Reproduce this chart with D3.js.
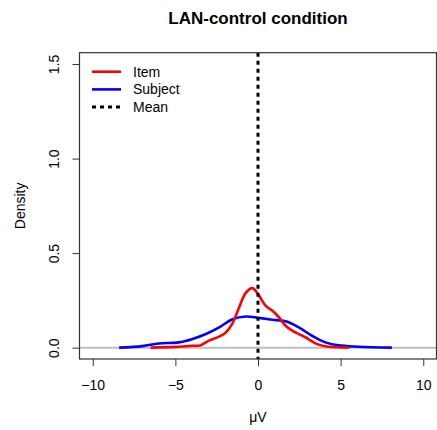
<!DOCTYPE html>
<html>
<head>
<meta charset="utf-8">
<script src="https://cdn.jsdelivr.net/npm/d3@7"></script>
<style>
  body { margin: 0; background: #fff; }
  svg { display: block; font-family: "Liberation Sans", Arial, sans-serif; }
</style>
</head>
<body>
<div id="chart"></div>
<script>
// values (µV, density)
var itemUv = [-6.5, -5.0, -4.0, -3.5, -2.9, -2.35, -1.95, -1.55, -1.14, -0.74, -0.34, 0.06, 0.46, 0.86, 1.27, 1.67, 2.07, 2.47, 2.87, 3.27, 3.67, 4.28, 5.5];
var itemDens = [0.0, 0.004, 0.01, 0.012, 0.04, 0.058, 0.08, 0.127, 0.213, 0.29, 0.315, 0.275, 0.222, 0.196, 0.16, 0.116, 0.09, 0.072, 0.055, 0.033, 0.016, 0.005, 0.0];

var subjUv = [-8.4, -7.0, -6.0, -4.8, -4.0, -3.15, -2.35, -1.55, -0.74, 0.06, 0.86, 1.67, 2.47, 3.27, 4.08, 4.88, 6.08, 8.1];
var subjDens = [0.0, 0.008, 0.022, 0.028, 0.045, 0.072, 0.107, 0.15, 0.165, 0.157, 0.148, 0.139, 0.107, 0.063, 0.028, 0.012, 0.005, 0.0];

var meanUv = 0;
var xTicks = [-10, -5, 0, 5, 10];
var yTicks = [0, 0.5, 1, 1.5];
var yTickLabels = ["0.0", "0.5", "1.0", "1.5"];
var legendNames = ["Item", "Subject", "Mean"];

var W = 437, H = 430;
var svg = d3.select("#chart").append("svg").attr("width", W).attr("height", H);
svg.append("rect").attr("width", W).attr("height", H).attr("fill", "#fff");

// R style: limits padded by 4%
var x = d3.scaleLinear().domain([-10.8, 10.8]).range([79.5, 436.5]);
var y = d3.scaleLinear().domain([-0.06, 1.56]).range([359, 52.7]);

function toPoints(xs, ys) {
    var pts = [];
    for (var i = 0; i < xs.length; i++) pts.push({x: xs[i], y: ys[i]});
    return pts;
}

var line = d3.line()
    .x(function (d) { return x(d.x); })
    .y(function (d) { return y(d.y); })
    .curve(d3.curveCatmullRom.alpha(0.5));

// zero line
svg.append("line")
    .attr("x1", x.range()[0]).attr("x2", x.range()[1])
    .attr("y1", y(0)).attr("y2", y(0))
    .attr("stroke", "#bebebe").attr("stroke-width", 2);

svg.append("path").datum(toPoints(subjUv, subjDens))
    .attr("fill", "none").attr("stroke", "#0000ff").attr("stroke-width", 2.6)
    .attr("d", line);
svg.append("path").datum(toPoints(itemUv, itemDens))
    .attr("fill", "none").attr("stroke", "#ff0000").attr("stroke-width", 2.6)
    .attr("d", line);

// mean line
svg.append("line")
    .attr("x1", x(meanUv)).attr("x2", x(meanUv))
    .attr("y1", y.range()[1]).attr("y2", y.range()[0])
    .attr("stroke", "#000").attr("stroke-width", 3)
    .attr("stroke-dasharray", "4,4");

// box
svg.append("rect")
    .attr("x", x.range()[0]).attr("y", y.range()[1])
    .attr("width", x.range()[1] - x.range()[0])
    .attr("height", y.range()[0] - y.range()[1])
    .attr("fill", "none").attr("stroke", "#333").attr("stroke-width", 1.2);

// axes
var xAxis = svg.append("g")
    .attr("transform", "translate(0," + y.range()[0] + ")")
    .call(d3.axisBottom(x).tickValues(xTicks).tickSize(7).tickPadding(14));
xAxis.select(".domain").remove();
xAxis.selectAll("text").attr("font-size", 14).attr("fill", "#000")
    .attr("font-family", "Liberation Sans, Arial, sans-serif");
xAxis.selectAll("line").attr("stroke", "#333");

var yAxis = svg.append("g")
    .attr("transform", "translate(" + x.range()[0] + ",0)")
    .call(d3.axisLeft(y).tickValues(yTicks).tickSize(7)
        .tickFormat(function (d, i) { return yTickLabels[i]; }));
yAxis.select(".domain").remove();
yAxis.selectAll("line").attr("stroke", "#333");
yAxis.selectAll("text").remove();
yAxis.selectAll(".tick").append("text")
    .attr("transform", "translate(-20.5,0) rotate(-90)")
    .attr("text-anchor", "middle")
    .attr("font-size", 14).attr("fill", "#000")
    .attr("font-family", "Liberation Sans, Arial, sans-serif")
    .text(function (d, i) { return yTickLabels[i]; });

// titles
svg.append("text").attr("x", 258).attr("y", 24)
    .attr("text-anchor", "middle").attr("font-size", 17).attr("font-weight", "bold")
    .text("LAN-control condition");
svg.append("text").attr("x", 258).attr("y", 422)
    .attr("text-anchor", "middle").attr("font-size", 14)
    .text("\u03bcV");
svg.append("text")
    .attr("transform", "translate(24.5," + (y.range()[0] + y.range()[1]) / 2 + ") rotate(-90)")
    .attr("text-anchor", "middle").attr("font-size", 14)
    .text("Density");

// legend
var legendColors = ["#ff0000", "#0000ff", "#000"];
var lg = svg.append("g");
legendNames.forEach(function (name, i) {
    var ly = 71.7 + i * 17.7;
    lg.append("line").attr("x1", 92).attr("x2", 121).attr("y1", ly).attr("y2", ly)
        .attr("stroke", legendColors[i]).attr("stroke-width", i == 2 ? 3 : 2.6)
        .attr("stroke-dasharray", i == 2 ? "4,4" : null);
    lg.append("text").attr("x", 133).attr("y", ly + 5).attr("font-size", 14).text(name);
});
</script>
</body>
</html>
